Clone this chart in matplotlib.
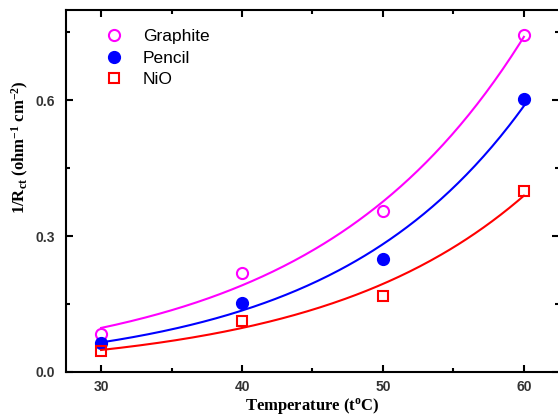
import numpy as np
import matplotlib
matplotlib.use('Agg')
import matplotlib.pyplot as plt

plt.rcParams['mathtext.fontset'] = 'custom'
plt.rcParams['mathtext.rm'] = 'Liberation Serif:bold'
plt.rcParams['mathtext.it'] = 'Liberation Serif:bold'
plt.rcParams['mathtext.bf'] = 'Liberation Serif:bold'

temperature = [30, 40, 50, 60]
graphite = [0.084, 0.218, 0.355, 0.744]
pencil = [0.064, 0.152, 0.249, 0.602]
nio = [0.046, 0.112, 0.168, 0.400]

SERIES = [
    ('Graphite', graphite, '#ff00ff', 'o', 'none'),
    ('Pencil', pencil, '#0000ff', 'o', '#0000ff'),
    ('NiO', nio, '#ff0000', 's', 'none'),
]


def exp_fit(x, y):
    # weighted log-linear fit, y = a * exp(b * x)
    x = np.asarray(x, float)
    y = np.asarray(y, float)
    b, lna = np.polyfit(x, np.log(y), 1, w=np.sqrt(y))
    return lambda t: np.exp(lna) * np.exp(b * t)


fig = plt.figure(figsize=(5.58, 4.17), dpi=100)
ax = fig.add_axes([0.118, 0.108, 0.884, 0.869])

xs = np.linspace(30, 60, 200)
handles = []
for name, vals, color, marker, face in SERIES:
    f = exp_fit(temperature, vals)
    ax.plot(xs, f(xs), color=color, lw=1.5)
    h, = ax.plot(temperature, vals, linestyle='none', marker=marker, ms=8 if marker == 'o' else 7,
                 markerfacecolor=face, markeredgecolor=color, markeredgewidth=1.5, label=name)
    handles.append(h)

ax.set_xlim(27.5, 62.5)
ax.set_ylim(0, 0.8)
ax.set_xticks([30, 40, 50, 60])
ax.set_xticks([35, 45, 55], minor=True)
ax.set_yticks([0.0, 0.3, 0.6])
ax.set_yticks([0.15, 0.45, 0.75], minor=True)
ax.yaxis.set_major_formatter(matplotlib.ticker.FormatStrFormatter('%.1f'))
ax.tick_params(which='both', direction='in', top=True, right=True, width=1.5)
ax.tick_params(which='major', length=5)
ax.tick_params(axis='x', which='major', pad=6)
ax.tick_params(axis='y', which='major', pad=8)
ax.tick_params(which='minor', length=3)
for lbl in ax.get_xticklabels() + ax.get_yticklabels():
    lbl.set_fontfamily('Liberation Sans')
    lbl.set_fontweight('bold')
    lbl.set_fontsize(10)
    lbl.set_color('#333333')
for s in ax.spines.values():
    s.set_linewidth(1.5)

ax.set_xlabel('Temperature (t$^{\\mathrm{o}}$C)', fontfamily='Liberation Serif', fontweight='bold',
              fontsize=12, labelpad=1)
ax.set_ylabel('1/R$_{\\mathrm{ct}}$ (ohm$^{\\mathrm{-1}}$ cm$^{\\mathrm{-2}}$)', fontfamily='Liberation Serif',
              fontweight='bold', fontsize=12)
ax.yaxis.set_label_coords(-0.07, 0.62)

ax.legend(handles=handles, loc='upper left', frameon=False, prop={'family': 'Liberation Sans', 'size': 12.5},
          handlelength=1.0, handletextpad=1.2, borderaxespad=0.0, labelspacing=0.35,
          bbox_to_anchor=(0.065, 0.965))

fig.savefig('out.png', dpi=100)
